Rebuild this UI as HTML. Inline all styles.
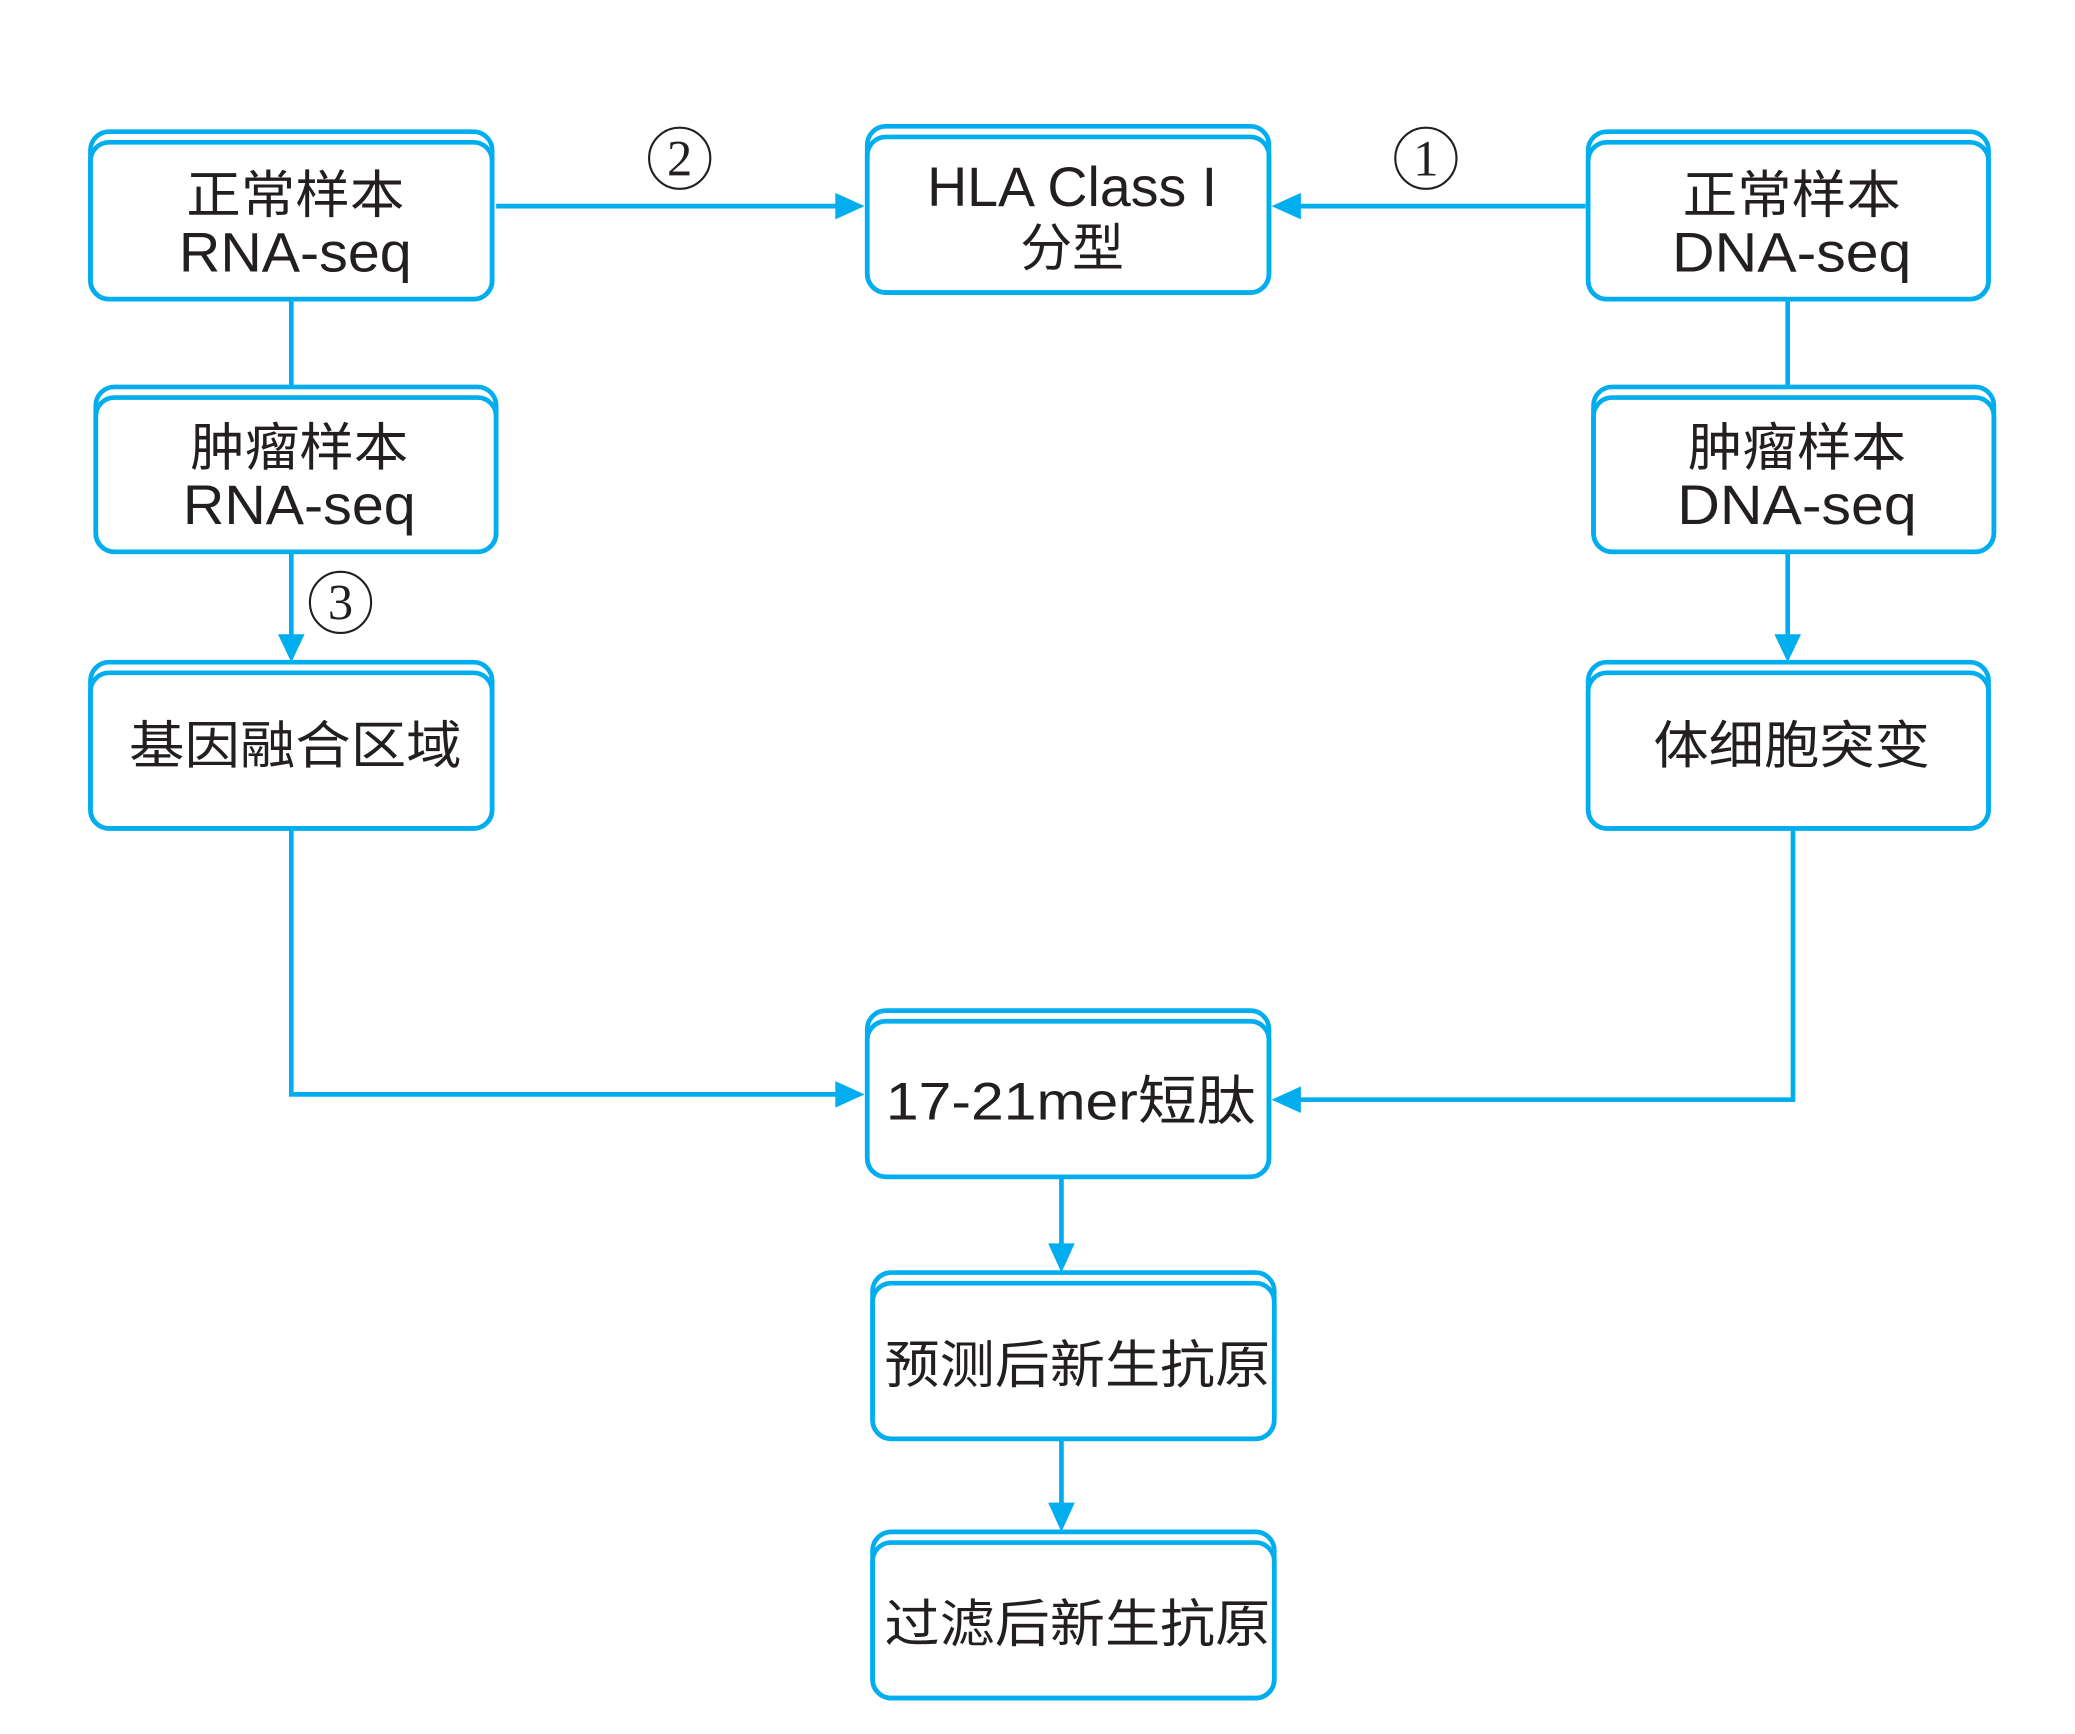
<!DOCTYPE html>
<html><head><meta charset="utf-8"><style>
html,body{margin:0;padding:0;background:#fff;}
svg{display:block;}
text{font-family:"Liberation Sans","Noto Sans CJK SC",sans-serif;fill:#231f20;}
.num{font-family:"Liberation Serif","Noto Serif CJK SC",serif;}
</style></head><body>
<svg width="2075" height="1734" viewBox="0 0 1560 1304" preserveAspectRatio="none" xmlns="http://www.w3.org/2000/svg">
<g fill="none" stroke="#00AEEF" stroke-width="3.5">
<rect x="68" y="99" width="302" height="126" rx="14"/><rect x="68" y="107" width="302" height="118" rx="14"/>
<rect x="652" y="95" width="302" height="125" rx="14"/><rect x="652" y="103" width="302" height="117" rx="14"/>
<rect x="1194" y="99" width="301" height="126" rx="14"/><rect x="1194" y="107" width="301" height="118" rx="14"/>
<rect x="72" y="291" width="301" height="124" rx="14"/><rect x="72" y="299" width="301" height="116" rx="14"/>
<rect x="1198" y="291" width="301" height="124" rx="14"/><rect x="1198" y="299" width="301" height="116" rx="14"/>
<rect x="68" y="498" width="302" height="125" rx="14"/><rect x="68" y="506" width="302" height="117" rx="14"/>
<rect x="1194" y="498" width="301" height="125" rx="14"/><rect x="1194" y="506" width="301" height="117" rx="14"/>
<rect x="652" y="760" width="302" height="125" rx="14"/><rect x="652" y="768" width="302" height="117" rx="14"/>
<rect x="656" y="957" width="302" height="125" rx="14"/><rect x="656" y="965" width="302" height="117" rx="14"/>
<rect x="656" y="1152" width="302" height="125" rx="14"/><rect x="656" y="1160" width="302" height="117" rx="14"/>
<path d="M373 155 H632"/>
<path d="M1192 155 H974"/>
<path d="M219 225 V291"/>
<path d="M1344 225 V291"/>
<path d="M219 415 V480"/>
<path d="M1344 415 V480"/>
<path d="M219 623 V823 H632"/>
<path d="M1348 623 V827 H974"/>
<path d="M798 885 V938"/>
<path d="M798 1082 V1133"/>
<circle cx="511" cy="119" r="23" stroke="#231f20" stroke-width="1.6"/>
<circle cx="1072" cy="119" r="23" stroke="#231f20" stroke-width="1.6"/>
<circle cx="256" cy="453" r="23" stroke="#231f20" stroke-width="1.6"/>
</g>
<g fill="#00AEEF">
<polygon points="650,155 628,145 628,165"/>
<polygon points="956,155 978,145 978,165"/>
<polygon points="219,498 209,477 229,477"/>
<polygon points="1344,498 1334,477 1354,477"/>
<polygon points="650,823 628,813 628,833"/>
<polygon points="956,827 978,817 978,837"/>
<polygon points="798,957 788,935 808,935"/>
<polygon points="798,1152 788,1130 808,1130"/>
</g>
<g font-size="39" text-anchor="middle">
<text x="222" y="160" textLength="164" lengthAdjust="spacingAndGlyphs">正常样本</text>
<text x="222" y="204" font-size="42" textLength="175" lengthAdjust="spacingAndGlyphs">RNA-seq</text>
<text x="806" y="155" font-size="42" textLength="218" lengthAdjust="spacingAndGlyphs">HLA Class I</text>
<text x="806" y="200">分型</text>
<text x="1347" y="160" textLength="164" lengthAdjust="spacingAndGlyphs">正常样本</text>
<text x="1347" y="204" font-size="42" textLength="180" lengthAdjust="spacingAndGlyphs">DNA-seq</text>
<text x="225" y="350" textLength="164" lengthAdjust="spacingAndGlyphs">肿瘤样本</text>
<text x="225" y="394" font-size="42" textLength="175" lengthAdjust="spacingAndGlyphs">RNA-seq</text>
<text x="1351" y="350" textLength="164" lengthAdjust="spacingAndGlyphs">肿瘤样本</text>
<text x="1351" y="394" font-size="42" textLength="180" lengthAdjust="spacingAndGlyphs">DNA-seq</text>
<text x="222" y="574" textLength="250" lengthAdjust="spacingAndGlyphs">基因融合区域</text>
<text x="1347" y="574" textLength="208" lengthAdjust="spacingAndGlyphs">体细胞突变</text>
<text x="805" y="842" font-size="40" textLength="278" lengthAdjust="spacingAndGlyphs">17-21mer短肽</text>
<text x="810" y="1040" textLength="290" lengthAdjust="spacingAndGlyphs">预测后新生抗原</text>
<text x="810" y="1235" textLength="290" lengthAdjust="spacingAndGlyphs">过滤后新生抗原</text>
</g>
<g font-size="38" text-anchor="middle">
<text class="num" x="511" y="132">2</text>
<text class="num" x="1072" y="132">1</text>
<text class="num" x="256" y="466">3</text>
</g>
</svg>
</body></html>
